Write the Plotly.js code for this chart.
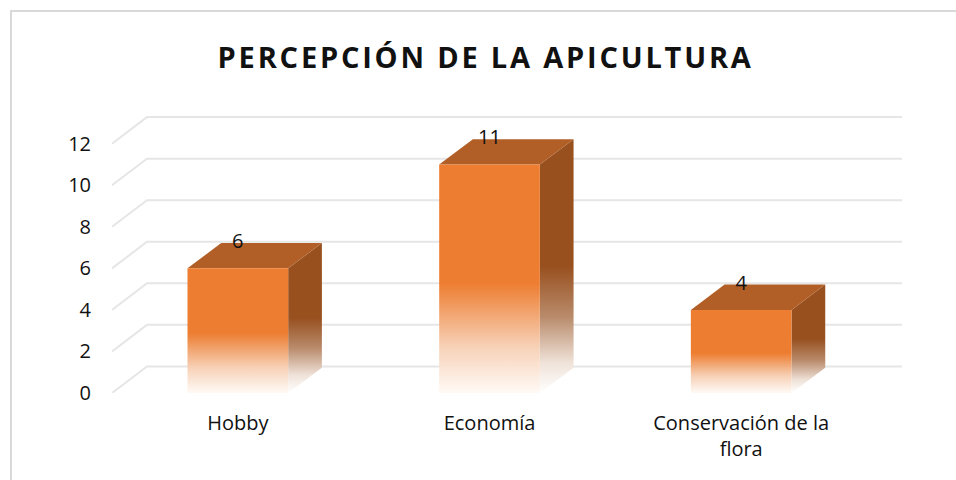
<!DOCTYPE html>
<html>
<head>
<meta charset="utf-8">
<script src="https://cdn.plot.ly/plotly-3.0.1.min.js"></script>
<style>
  html, body { margin: 0; padding: 0; background: #ffffff; }
  #frame { position: absolute; left: 10px; top: 10px; width: 1000px; height: 1000px;
           border-left: 2px solid #d9d9d9; border-top: 2px solid #d9d9d9; box-sizing: border-box; }
  #chart { position: absolute; left: 0; top: 0; width: 956px; height: 480px; }
  #chart .gtitle { letter-spacing: 2.8px; }
</style>
</head>
<body>
<div id="frame"></div>
<div id="chart"></div>
<script>
// ---- data ----
const categories = ['Hobby', 'Economía', 'Conservación de la flora'];
const tickLabels = ['Hobby', 'Economía', 'Conservación de la<br>flora'];
const values = [6, 11, 4];
const yTicks = [0, 2, 4, 6, 8, 10, 12];
const chartTitle = 'PERCEPCIÓN DE LA APICULTURA';

// ---- styling / geometry constants ----
const FONT = 'Open Sans, Noto Sans, sans-serif';
const BAR_W = 0.4;          // front face width (category units)
const BAR_DX = 0.134, BAR_DY = 1.22;   // depth offset of bars
const GRID_DX = 0.139, GRID_DY = 1.28; // depth offset of back wall
const X0 = -0.5, X1 = 2.5;
const cFront = '#ED7D31', cTop = '#B25F27', cSide = '#98501F';

const xs = categories.map((c, i) => i);
const traces = [];

categories.forEach((cat, i) => {
  const v = values[i];
  const l = xs[i] - BAR_W / 2, r = xs[i] + BAR_W / 2;
  // side face
  traces.push({
    type: 'scatter', mode: 'lines', hoverinfo: 'skip', showlegend: false,
    x: [r, r + BAR_DX, r + BAR_DX, r, r],
    y: [0, BAR_DY, v + BAR_DY, v, 0],
    line: {width: 0}, fill: 'toself',
    fillgradient: {type: 'vertical',
      colorscale: [[0, 'rgba(255,255,255,1)'], [0.12, '#efe2d8'], [0.3, '#b98b6b'], [0.5, cSide], [1, cSide]]}
  });
  // top face
  traces.push({
    type: 'scatter', mode: 'lines', hoverinfo: 'skip', showlegend: false,
    x: [l, r, r + BAR_DX, l + BAR_DX, l],
    y: [v, v, v + BAR_DY, v + BAR_DY, v],
    line: {width: 0}, fill: 'toself', fillcolor: cTop
  });
  // front face
  traces.push({
    type: 'scatter', mode: 'lines', hoverinfo: 'skip', showlegend: false,
    name: cat,
    x: [l, r, r, l, l],
    y: [0, 0, v, v, 0],
    line: {width: 0}, fill: 'toself',
    fillgradient: {type: 'vertical',
      colorscale: [[0, '#fffaf6'], [0.2, '#f7d2b8'], [0.48, cFront], [1, cFront]]}
  });
});

// data labels
traces.push({
  type: 'scatter', mode: 'text', hoverinfo: 'skip', showlegend: false,
  x: xs, y: values.map(v => v + BAR_DY),
  text: values.map(String), textposition: 'middle center',
  textfont: {family: FONT, size: 20, color: '#111111'},
  cliponaxis: false
});

// back wall grid (with perspective diagonal at the left)
const shapes = yTicks.map(t => ({
  type: 'path', layer: 'below', xref: 'x', yref: 'y',
  path: `M ${X0} ${t} L ${X0 + GRID_DX} ${t + GRID_DY} L ${X1 + GRID_DX} ${t + GRID_DY}`,
  line: {color: '#e6e6e6', width: 2}
}));

const layout = {
  width: 956, height: 480,
  margin: {l: 111.7, r: 54, t: 97.5, b: 86.7},
  paper_bgcolor: 'rgba(0,0,0,0)', plot_bgcolor: 'rgba(0,0,0,0)',
  title: {text: '<b>' + chartTitle + '</b>', font: {family: FONT, size: 29, color: '#111111'},
          xref: 'container', yref: 'container', x: 0.508, xanchor: 'center', y: 1 - 58 / 480, yanchor: 'middle'},
  xaxis: {range: [X0, X1 + GRID_DX], tickmode: 'array', tickvals: xs, ticktext: tickLabels,
          showgrid: false, zeroline: false, showline: false,
          ticks: 'outside', ticklen: 12, tickcolor: 'rgba(0,0,0,0)',
          tickfont: {family: FONT, size: 20, color: '#111111'}, fixedrange: true},
  yaxis: {range: [0, 14.2], tickmode: 'array', tickvals: yTicks, ticktext: yTicks.map(String),
          showgrid: false, zeroline: false, showline: false,
          ticks: 'outside', ticklen: 16, tickcolor: 'rgba(0,0,0,0)',
          tickfont: {family: FONT, size: 20, color: '#111111'}, fixedrange: true},
  shapes: shapes,
  showlegend: false
};

Plotly.newPlot('chart', traces, layout, {staticPlot: true, displayModeBar: false});
</script>
</body>
</html>
